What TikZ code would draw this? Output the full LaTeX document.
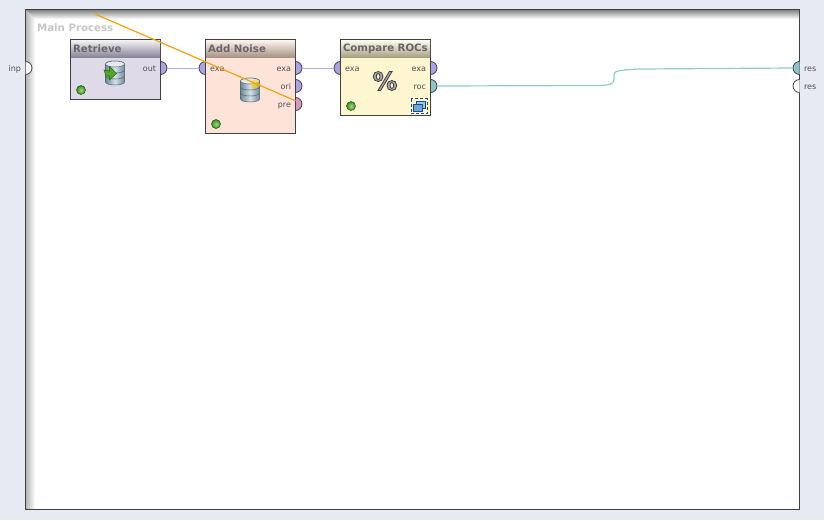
\documentclass[tikz,border=0pt]{standalone}
\usepackage{fontspec}
\setmainfont{DejaVu Sans}
\usetikzlibrary{calc}
\definecolor{pagebg}{HTML}{E6EAF3}
\definecolor{framecol}{HTML}{3F3F46}
\definecolor{labelcol}{HTML}{505050}
\definecolor{titlecol}{HTML}{6B6468}
\definecolor{maincol}{HTML}{C6C6C6}
\definecolor{exacol}{HTML}{AAA5E0}
\definecolor{precol}{HTML}{D49ABF}
\definecolor{roccol}{HTML}{8FC3C6}
\definecolor{exaline}{HTML}{B5AEF0}
\definecolor{rocline}{HTML}{8FCBCB}
\definecolor{orangeline}{HTML}{F5A114}
\definecolor{retbody}{HTML}{DEDAE8}
\definecolor{rettop}{HTML}{F4F2F8}
\definecolor{retbot}{HTML}{8A8698}
\definecolor{addbody}{HTML}{FEE4D8}
\definecolor{addtop}{HTML}{FFF4EE}
\definecolor{addbot}{HTML}{A89488}
\definecolor{cmpbody}{HTML}{FDF6D0}
\definecolor{cmptop}{HTML}{FFFDEE}
\definecolor{cmpbot}{HTML}{A8A284}
\definecolor{ledin}{HTML}{9CE06C}
\definecolor{ledout}{HTML}{3F8A2A}
\definecolor{ledline}{HTML}{2F5F2F}
\definecolor{dbside}{HTML}{6F8A9A}
\definecolor{dbmid}{HTML}{D5E0E6}
\definecolor{dbtop}{HTML}{E4ECF0}
\definecolor{dbline}{HTML}{4F6070}
\definecolor{arrowfill}{HTML}{4FA828}
\definecolor{arrowline}{HTML}{2F6F1C}
\definecolor{winblue}{HTML}{6FA6D6}
\definecolor{winback}{HTML}{9CC4E4}
\definecolor{winline}{HTML}{1F4F80}
\tikzset{
  opbox/.style={draw=framecol,line width=1pt,anchor=north west,inner sep=0pt,outer sep=0pt,minimum width=90pt},
  optitle/.style={anchor=north west,inner sep=0pt,outer sep=0pt,minimum width=89pt,minimum height=17pt,text width=85pt,align=left,font=\fontsize{10.2}{11}\selectfont\bfseries,text=titlecol},
  portlabel/.style={font=\fontsize{8}{9}\selectfont,text=labelcol,inner sep=0pt,outer sep=0pt},
  leftlabel/.style={portlabel,anchor=base west},
  rightlabel/.style={portlabel,anchor=base east},
  portline/.style={draw=framecol,line width=.8pt},
  exawire/.style={draw=exaline,line width=1pt},
  rocwire/.style={draw=rocline,line width=1.2pt},
  ledball/.style={circle,minimum size=9pt,inner sep=0pt,draw=ledline,line width=.6pt,inner color=ledin,outer color=ledout},
}
\newcommand{\portright}[4]{%
  \fill[#4] (#2,#3) ++(90:6.5pt) arc (90:-90:6.5pt) -- cycle;
  \draw[portline] (#2,#3) ++(90:6.5pt) arc (90:-90:6.5pt);
  \coordinate (#1) at ($(#2,#3)+(6.5pt,0)$);}
\newcommand{\portleft}[4]{%
  \fill[#4] (#2,#3) ++(90:6.5pt) arc (90:270:6.5pt) -- cycle;
  \draw[portline] (#2,#3) ++(90:6.5pt) arc (90:270:6.5pt);
  \coordinate (#1) at ($(#2,#3)+(-6.5pt,0)$);}
\newcommand{\dbicon}[2]{%
  \begin{scope}[shift={(#1,#2)}]
    \shade[left color=dbside,right color=dbside,middle color=dbmid,draw=dbline,line width=.5pt]
      (-9.5,-9) -- (-9.5,9) arc (180:360:9.5pt and 3pt) -- (9.5,-9) arc (0:180:9.5pt and 3pt) -- cycle;
    \draw[dbline,line width=.5pt] (-9.5,-3) arc (180:360:9.5pt and 3pt);
    \draw[dbline,line width=.5pt] (-9.5,3) arc (180:360:9.5pt and 3pt);
    \filldraw[fill=dbtop,draw=dbline,line width=.5pt] (0,-9) ellipse (9.5pt and 3pt);
  \end{scope}}
\begin{document}
\begin{tikzpicture}[x=1pt,y=-1pt]
\useasboundingbox (0,0) rectangle (824,520);
\fill[pagebg] (0,0) rectangle (824,520);
% process panel
\fill[white] (25.5,9.5) rectangle (799.5,509.5);
\begin{scope}
  \clip (25.5,9.5) -- (35,19) -- (35,509.5) -- (25.5,509.5) -- cycle;
  \shade[left color=black!30,right color=white] (25.5,9.5) rectangle (35,509.5);
\end{scope}
\begin{scope}
  \clip (25.5,9.5) -- (799.5,9.5) -- (799.5,19) -- (35,19) -- cycle;
  \shade[top color=black!50,bottom color=white] (25.5,9.5) rectangle (799.5,19);
\end{scope}
\node[font=\fontsize{10.2}{11}\selectfont\bfseries,text=maincol,anchor=base west,inner sep=0pt] (mainlabel) at (37,31) {Main Process};
\draw[framecol,line width=1pt] (25.5,9.5) rectangle (799.5,509.5);
% panel ports
\portright{inp}{25.5}{68}{white}
\portleft{resa}{799.5}{68}{roccol}
\portleft{resb}{799.5}{86}{white}
\node[rightlabel] (inplabel) at (21,71) {inp};
\node[leftlabel] (resalabel) at (804,71) {res};
\node[leftlabel] (resblabel) at (804,89) {res};
% operator ports
\portright{retout}{160.5}{68}{exacol}
\portleft{addin}{205.5}{68}{exacol}
\portright{addexa}{295.5}{68}{exacol}
\portright{addori}{295.5}{86}{exacol}
\portright{addpre}{295.5}{104}{precol}
\portleft{cmpin}{340.5}{68}{exacol}
\portright{cmpexa}{430.5}{68}{exacol}
\portright{cmproc}{430.5}{86}{roccol}
% wires
\draw[exawire] (retout) -- (addin);
\draw[exawire] (addexa) -- (cmpin);
\draw[rocwire] (cmproc) -- (600,85.5) .. controls (612,85) and (614,83) .. (614,79) -- (614,75) .. controls (614,71) and (618,70) .. (640,69) -- (resa);
% Retrieve
\node[opbox,fill=retbody,minimum height=59.5pt] (retrieve) at (70.5,39.5) {};
\node[optitle,top color=rettop,bottom color=retbot] (retrievetitle) at (71,40) {Retrieve};
\node[rightlabel] (retoutlabel) at (156,71) {out};
\dbicon{115}{73}
\filldraw[fill=arrowfill,draw=arrowline,line width=.6pt] (104,70) -- (109.5,71) -- (109.5,66.5) -- (116.5,73.5) -- (109.5,80) -- (109.5,76) -- (106,76) -- cycle;
\node[ledball] (retled) at (81,90) {};
% Add Noise
\node[opbox,fill=addbody,minimum height=93.5pt] (addnoise) at (205.5,39.5) {};
\node[optitle,top color=addtop,bottom color=addbot] (addtitle) at (206,40) {Add Noise};
\node[leftlabel] (addinlabel) at (210,71) {exa};
\node[rightlabel] (addexalabel) at (291,71) {exa};
\node[rightlabel] (addorilabel) at (291,89) {ori};
\node[rightlabel] (addprelabel) at (291,107) {pre};
\dbicon{250}{90}
\fill[yellow!70!orange,opacity=.6] (255,84) circle (4.5pt);
\node[ledball] (addled) at (216,124) {};
% Compare ROCs
\node[opbox,fill=cmpbody,minimum height=76pt] (compare) at (340.5,39.5) {};
\node[optitle,top color=cmptop,bottom color=cmpbot] (cmptitle) at (341,40) {Compare ROCs};
\node[leftlabel] (cmpinlabel) at (345,71) {exa};
\node[rightlabel] (cmpexalabel) at (426,71) {exa};
\node[rightlabel] (cmproclabel) at (426,89) {roc};
\node[font=\fontsize{25}{25}\selectfont\bfseries,text=black!35,inner sep=0pt] (percent) at (385,81) {\special{pdf:code 2 Tr 0.8 w 0.25 0.25 0.25 RG}\%\special{pdf:code 0 Tr}};
\node[ledball] (cmpled) at (351,106) {};
\draw[winline,densely dashed,line width=.7pt] (411,98.5) rectangle (427,113.5);
\filldraw[fill=winback,draw=winline,line width=.7pt] (416,101) rectangle (425,108);
\filldraw[fill=winblue,draw=winline,line width=.7pt] (413,104) rectangle (422,111);
% orange connector
\coordinate (dragstart) at (95,14);
\draw[draw=orangeline,line width=1.2pt] (dragstart) -- ($(addpre)+(-6.5,-3.2)$);
\end{tikzpicture}
\end{document}
